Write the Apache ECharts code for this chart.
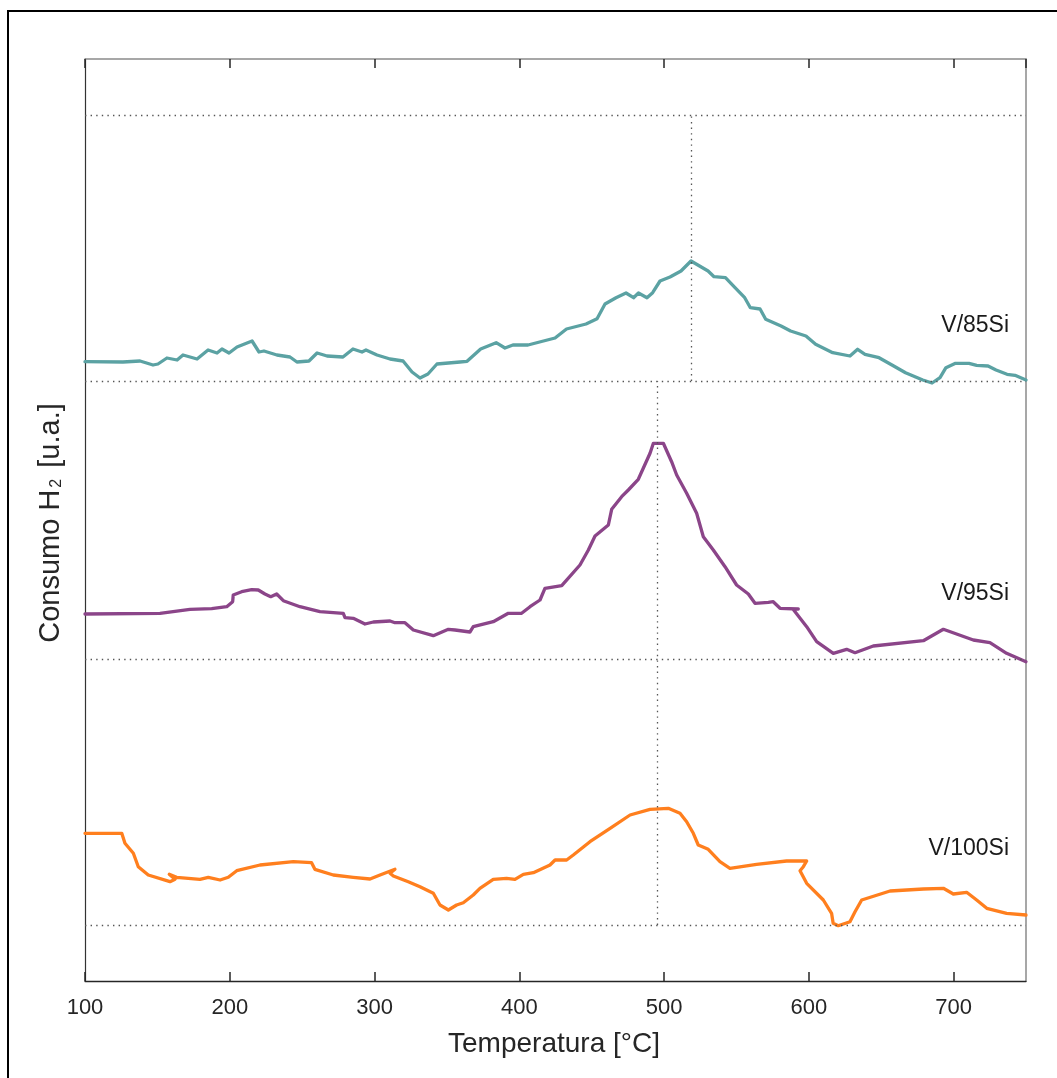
<!DOCTYPE html>
<html>
<head>
<meta charset="utf-8">
<title>Consumo H2 – TPR</title>
<script src="https://cdn.jsdelivr.net/npm/echarts@6/dist/echarts.min.js"></script>
<style>
  html, body { margin: 0; padding: 0; background: #ffffff; }
  #chart { width: 1057px; height: 1078px; }
</style>
</head>
<body>
<div id="chart"></div>
<script>
// H2 consumption profiles, [temperature °C, signal a.u. above the profile's own baseline]
const v85Si = [
  [100,19.3],[126.2,19],[138,20],[147,16],[150.4,17],[156.6,23],[163.6,21],[167.7,26],[177.4,22],
  [185,31],[191.2,28],[194.6,32],[199.5,28],[205,34],[215.4,40],[220.2,29],[223.6,30],[232.6,26],
  [241.6,24],[246.4,19],[254.7,20],[260.3,28],[267.2,25],[278.2,24],[285.1,32],[291.3,29],[294.1,31],
  [301.7,26],[310.7,22],[319.7,20],[325.9,9],[331.4,3],[336.9,7],[343.1,17],[359,19],[363.9,19.7],
  [373.3,32],[384,38.3],[390.1,33],[395.6,36],[406,36],[424.7,43],[432.6,52],[446.1,57],[453.7,62.3],
  [459.2,77],[466.8,83.3],[473.7,88],[478.9,83.3],[482.3,88],[488.2,83.3],[492.1,88.3],[497.2,100],
  [504.1,104],[511.7,110],[518.6,120],[530.4,110],[534.5,104.3],[542.4,103.3],[549,93.3],[555.7,83.3],
  [559.6,73.3],[566.3,72],[570.2,61.7],[580.8,55],[587.4,50],[598,45],[604.7,36.7],[616.5,28.3],
  [628.4,25],[633.7,31.7],[638.8,26.7],[648.5,23.3],[657.4,16],[666.8,8.3],[678.7,1],[685.1,-2],
  [690.6,3.3],[694.7,13.3],[701.3,17.7],[710.6,17.7],[715.9,15.7],[723.8,15],[729.3,11],[736.9,6.7],
  [742.4,5.7],[750,1]
];
const v95Si = [
  [100,45],[151.8,45.7],[172.5,49.7],[187.5,50.3],[197.9,52.3],[202,57.3],[202.4,64],[208.2,67.3],
  [215.1,69.3],[219.7,69],[224.3,65],[228.3,62.3],[232.4,65],[237,58.3],[248.5,52.3],[262.3,47.3],
  [278.4,45.7],[279.6,41.3],[285.3,40.7],[293.4,35],[299.2,37],[310.7,38],[314.1,36.3],[321,36.3],
  [326.8,29],[340.6,23.3],[351,29.7],[355.6,29],[365.9,27],[368.2,32.3],[382,37.3],[392.4,45.7],
  [401.6,45.7],[407.4,52.3],[414.3,59],[417.7,70.7],[429.3,73.3],[441.9,94],[447.7,109],[452.3,123],
  [461.5,134],[463.8,149.7],[470.7,162.3],[475.3,169],[482.2,179.7],[490.3,205.7],[492.6,215.7],
  [499.5,215.7],[505.2,197.3],[508.7,184],[515.6,165.7],[522.5,145.7],[527.1,122.3],[534,109],
  [542.1,92.3],[550.1,74],[558.2,65],[562.8,55.7],[572,56.7],[575.4,57.3],[580.1,50.7],[592.7,50],
  [589,50],[598.5,32.3],[605.4,17.3],[616.9,5.7],[626.1,9.7],[631.9,6.3],[644.5,13],[679.1,18.3],
  [692.9,29.7],[713.6,19],[725.1,16.3],[736.6,5.7],[750,-2.7]
];
const v100Si = [
  [100,91.7],[125.4,91.7],[127.6,81.7],[133.4,71.7],[136.8,58.3],[143.7,50],[158.7,43.3],[162.2,45.7],
  [158.2,50.7],[163.3,47.7],[179.4,45.7],[185.2,47.7],[193.3,45],[199,47.7],[204.8,54.3],[220.9,60],
  [243.9,63.3],[256.5,62.3],[258.8,55.7],[271.5,50],[285.3,47.7],[296.9,46],[303.8,50],[314.1,55.7],
  [310.7,51.7],[313,49],[323.3,43.3],[331.4,38.3],[340.6,31.7],[345.2,20],[351,15],[356.7,20],
  [361.3,22.3],[368.2,30],[372.8,36.7],[382,45.7],[391.2,46.7],[397,45.7],[402.8,50.7],[409.7,52.3],
  [421.2,60],[424.7,65],[432.7,65],[437.3,70],[448.8,83.3],[462.7,96.7],[476.5,110],[490.3,115.7],
  [502.9,116.7],[511,111.7],[515.6,103.3],[520.2,91.7],[523.6,80],[530.5,75.7],[538.6,63.3],
  [545.5,56.7],[563.9,60.7],[584.6,64],[598.5,64],[596.2,58.3],[593.9,54.3],[598.5,41.7],[610,25],
  [615.7,11.7],[616.8,1.7],[620.3,-0.7],[628.4,3.3],[631.9,13.3],[636.5,25],[656.1,34],[679.1,36],
  [692.9,36.7],[699.8,31],[709,32.7],[715.9,25],[722.9,16.7],[736.6,11.7],[750,10]
];

const seriesNames = ['V/85Si', 'V/95Si', 'V/100Si'];
const peakTemps = [518.6, 495];          // reduction maxima marked with vertical guides
const xTicks = { min: 100, max: 750, step: 100 };

// vertical stacking of the three profiles (a.u.)
const yMax = 922;
const baselines = [600, 322, 56];
const topGuide = 866;
const labelHeights = [55, 65, 76];       // label centre above each baseline
const labelTemp = 738.3;

const colors = ['#5ba2a3', '#8b4589', '#ff7f1e'];
const FONT = '"Liberation Sans", Arial, Helvetica, sans-serif';
const INK = '#262626';

const profiles = [v85Si, v95Si, v100Si];

const chart = echarts.init(document.getElementById('chart'), null, { renderer: 'canvas' });

const series = profiles.map((prof, i) => ({
  name: seriesNames[i],
  type: 'line',
  data: prof.map(([t, s]) => [t, s + baselines[i]]),
  showSymbol: false,
  symbol: 'none',
  smooth: false,
  silent: true,
  z: 4,
  lineStyle: { color: colors[i], width: 3.3, join: 'round', cap: 'round' },
  itemStyle: { color: colors[i] },
  markPoint: {
    silent: true,
    symbol: 'circle',
    symbolSize: 0,
    itemStyle: { color: 'rgba(0,0,0,0)' },
    label: {
      show: true,
      position: 'left',
      distance: 0,
      formatter: seriesNames[i],
      fontFamily: FONT,
      fontSize: 23,
      color: '#1a1a1a'
    },
    data: [{ coord: [labelTemp, baselines[i] + labelHeights[i]] }]
  }
}));

// dotted baselines and peak guides
series.push({
  name: 'guides',
  type: 'line',
  data: [[xTicks.min, null]],
  showSymbol: false,
  silent: true,
  z: 2,
  markLine: {
    silent: true,
    symbol: ['none', 'none'],
    label: { show: false },
    emphasis: { disabled: true },
    lineStyle: { type: [1.4, 4.2], color: '#555555', width: 1.3 },
    data: [
      { yAxis: topGuide },
      { yAxis: baselines[0] },
      { yAxis: baselines[1] },
      { yAxis: baselines[2] },
      [{ coord: [peakTemps[0], baselines[0]] }, { coord: [peakTemps[0], topGuide] }],
      [{ coord: [peakTemps[1], baselines[2]] }, { coord: [peakTemps[1], baselines[0]] }]
    ]
  }
});

const option = {
  animation: false,
  backgroundColor: '#ffffff',
  grid: { left: 85, right: 31, top: 59, bottom: 97, containLabel: false },
  xAxis: [
    {
      type: 'value', position: 'bottom',
      min: xTicks.min, max: xTicks.max, interval: xTicks.step,
      axisLine: { onZero: false, lineStyle: { color: INK, width: 1.3 } },
      axisTick: { inside: true, length: 9, lineStyle: { color: INK, width: 1.5 } },
      axisLabel: { fontFamily: FONT, fontSize: 22, color: INK, margin: 16, showMaxLabel: false },
      splitLine: { show: false }
    },
    {
      type: 'value', position: 'top',
      min: xTicks.min, max: xTicks.max, interval: xTicks.step,
      axisLine: { onZero: false, lineStyle: { color: '#8a8a8a', width: 1.5 } },
      axisTick: { inside: true, length: 9, lineStyle: { color: INK, width: 1.5 } },
      axisLabel: { show: false },
      splitLine: { show: false }
    }
  ],
  yAxis: [
    {
      type: 'value', position: 'left', min: 0, max: yMax,
      axisLine: { show: true, onZero: false, lineStyle: { color: '#333333', width: 1.2 } },
      axisTick: { show: false }, axisLabel: { show: false }, splitLine: { show: false }
    },
    {
      type: 'value', position: 'right', min: 0, max: yMax,
      axisLine: { show: true, onZero: false, lineStyle: { color: '#8a8a8a', width: 1.5 } },
      axisTick: { show: false }, axisLabel: { show: false }, splitLine: { show: false }
    }
  ],
  graphic: [
    {
      type: 'rect', z: 0, silent: true,
      shape: { x: 8, y: 11, width: 1100, height: 1100 },
      style: { fill: 'none', stroke: '#000000', lineWidth: 2 }
    },
    {
      type: 'text', silent: true,
      x: 554, y: 1044,
      style: {
        text: 'Temperatura [°C]',
        fontFamily: FONT, fontSize: 28, fill: INK,
        align: 'center', verticalAlign: 'middle'
      }
    },
    {
      type: 'text', silent: true,
      x: 46, y: 523, rotation: Math.PI / 2,
      style: {
        text: '{a|Consumo H}{b|2}{a| [u.a.]}',
        align: 'center', verticalAlign: 'middle',
        fill: INK,
        rich: {
          a: { fontFamily: FONT, fontSize: 29, lineHeight: 38, verticalAlign: 'bottom', fill: INK },
          b: { fontFamily: FONT, fontSize: 16, lineHeight: 15, verticalAlign: 'bottom', fill: INK, padding: [0, 3, 0, 2] }
        }
      }
    }
  ],
  series: series
};

chart.setOption(option);
</script>
</body>
</html>
